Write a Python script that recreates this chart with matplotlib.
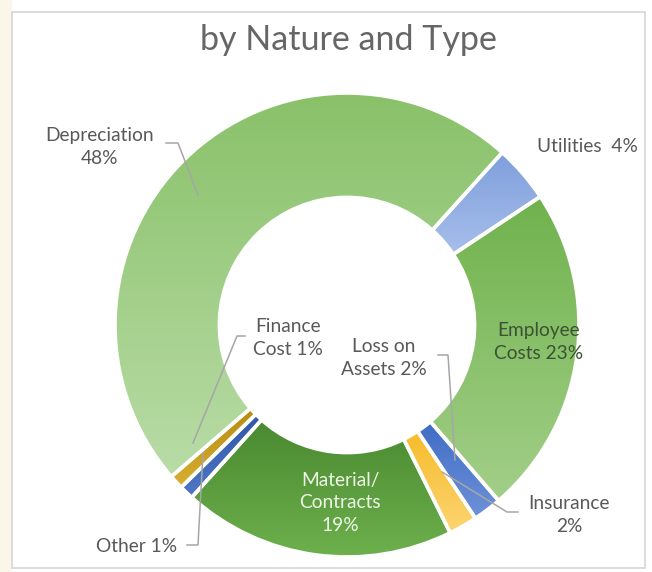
import matplotlib
matplotlib.use("Agg")
import matplotlib.pyplot as plt
import numpy as np
from matplotlib.patches import Rectangle, Wedge
from matplotlib.colors import to_rgb

# ---- data (clockwise from the Utilities slice) ----
categories = ["Utilities", "Employee Costs", "Loss on Assets", "Insurance",
              "Material/Contracts", "Other", "Finance Cost", "Depreciation"]
shares = [4, 23, 2, 2, 19, 1, 1, 48]
label_texts = ["Utilities  4%", "Employee\nCosts 23%", "Loss on\nAssets 2%", "Insurance\n2%",
               "Material/\nContracts\n19%", "Other 1%", "Finance\nCost 1%", "Depreciation\n48%"]
title = "by Nature and Type"

# gradient colours (top, bottom) per slice
top_colors = ["#7F9FDC", "#70B24D", "#3F6CC4", "#F7BC2C",
              "#4A8930", "#2F56A8", "#B68B10", "#89C169"]
bottom_colors = ["#A6BEEA", "#A2CF88", "#6E92DA", "#FCD470",
                 "#6DB04D", "#5078C6", "#D9AF32", "#B9DCA7"]

W, H = 652, 572
plt.rcParams['font.family'] = ['Lato', 'DejaVu Sans']
fig = plt.figure(figsize=(W / 100, H / 100), dpi=100)
fig.patch.set_facecolor("white")
ax = fig.add_axes([0, 0, 1, 1])

def py(y):
    return H - y

cx, cy, R = 347, py(325), 232
mid_colors = [tuple((np.array(to_rgb(a)) + np.array(to_rgb(b))) / 2) for a, b in zip(top_colors, bottom_colors)]
wedges, _ = ax.pie(shares, colors=mid_colors, startangle=48, counterclock=False,
                   center=(cx, cy), radius=R,
                   wedgeprops=dict(width=R * 0.45, edgecolor="none", linewidth=0))
ax.set_xlim(0, W)
ax.set_ylim(0, H)
ax.set_aspect("auto")
ax.axis("off")

# gradient fill clipped to each wedge, then white separators
for w, ct, cb in zip(wedges, top_colors, bottom_colors):
    ext = w.get_path().get_extents()
    t = np.linspace(0, 1, 128)[:, None]
    c0, c1 = np.array(to_rgb(ct)), np.array(to_rgb(cb))
    img = (c0[None, None, :] * (1 - t[..., None]) + c1[None, None, :] * t[..., None])
    img = np.repeat(img, 2, axis=1)
    im = ax.imshow(img, extent=(ext.x0, ext.x1, ext.y0, ext.y1), origin="upper",
                   aspect="auto", interpolation="bilinear", zorder=1.5)
    im.set_clip_path(w)
    ax.add_patch(Wedge(w.center, w.r, w.theta1, w.theta2, width=w.width,
                       facecolor="none", edgecolor="white", linewidth=2.6, zorder=2))
ax.set_xlim(0, W)
ax.set_ylim(0, H)

# background strip and chart border
ax.add_patch(Rectangle((0, 0), 11, H, color="#FBF6EA", zorder=0))
ax.add_patch(Rectangle((12, py(568)), 633, 556, fill=False, edgecolor="#D6D6D6", linewidth=1.2, zorder=0))

ax.text(348, py(40), title, ha="center", va="center", fontsize=24.5, color="#666666")

grey = "#595959"
lc = "#A6A6A6"
fs = 13.8

# label placements (layout only)
layout = {
    "Utilities": dict(xy=(587, py(146)), color=grey),
    "Employee Costs": dict(xy=(539, py(342)), color="#3C5234"),
    "Loss on Assets": dict(xy=(384, py(358)), color=grey),
    "Insurance": dict(xy=(569, py(515)), color=grey),
    "Material/Contracts": dict(xy=(340, py(503)), color="#EEF5E8"),
    "Other": dict(xy=(137, py(546)), color=grey),
    "Finance Cost": dict(xy=(288, py(338)), color=grey),
    "Depreciation": dict(xy=(100, py(147)), color=grey),
}
for cat, txt in zip(categories, label_texts):
    p = layout[cat]
    ax.text(p["xy"][0], p["xy"][1], txt, ha="center", va="center", fontsize=fs,
            color=p["color"], linespacing=1.4, zorder=6)

# leader lines
leaders = [
    [(166, 143), (178, 143), (198, 195)],
    [(245, 336), (237, 336), (193, 443)],
    [(438, 355), (448, 355), (455, 460)],
    [(518, 512), (507, 512), (442, 472)],
    [(187, 545), (198, 545), (203, 453)],
]
for pts in leaders:
    xs = [p[0] for p in pts]
    ys = [py(p[1]) for p in pts]
    ax.plot(xs, ys, color=lc, linewidth=1.1, zorder=5)

fig.savefig("out.png", dpi=100, facecolor=fig.get_facecolor())
